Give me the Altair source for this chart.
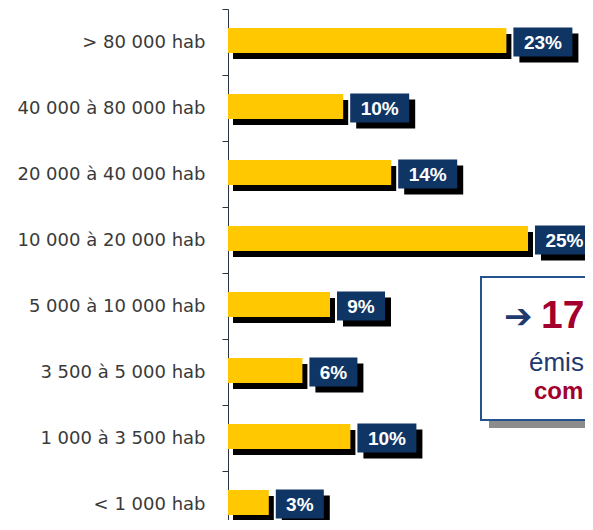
import altair as alt
import pandas as pd

# ---- data ----
categories = [
    "> 80 000 hab",
    "40 000 à 80 000 hab",
    "20 000 à 40 000 hab",
    "10 000 à 20 000 hab",
    "5 000 à 10 000 hab",
    "3 500 à 5 000 hab",
    "1 000 à 3 500 hab",
    "< 1 000 hab",
]
values = [23.2, 9.6, 13.6, 25.0, 8.5, 6.2, 10.2, 3.4]
labels = ["23%", "10%", "14%", "25%", "9%", "6%", "10%", "3%"]

note_arrow = "➔"
note_big = "17"
note_line2 = "émis"
note_line3 = "com"

# ---- styling ----
YELLOW = "#FFC800"
NAVY = "#0F3565"
NAVY_TXT = "#1F3A6E"
RED = "#A3002E"
AXIS_C = "#2B3340"

PAD_L = 220
PAD_T = 1
PLOT_W = 357
PLOT_H = 511
PX_PER_UNIT = 12.0
XMAX = PLOT_W / PX_PER_UNIT

df = pd.DataFrame({"cat": categories, "value": values, "lbl": labels})

y_enc = alt.Y(
    "cat:N",
    sort=categories,
    scale=alt.Scale(domain=categories, range=[0, 528], paddingInner=0, paddingOuter=0),
    axis=alt.Axis(
        title=None,
        tickBand="extent",
        tickSize=6,
        tickColor=AXIS_C,
        domainColor=AXIS_C,
        domainWidth=1,
        labelFont="DejaVu Sans",
        labelFontSize=18,
        labelColor="#3a3a3a",
        labelPadding=17,
        labelLimit=300,
    ),
)
x_enc = alt.X("value:Q", scale=alt.Scale(domain=[0, XMAX], nice=False, zero=True), axis=None)

base = alt.Chart(df).encode(y=y_enc)

bar_shadow = base.mark_bar(color="black", height=25, xOffset=5, x2Offset=5, yOffset=4.5).encode(
    x=x_enc, x2=alt.datum(0)
)
bar = base.mark_bar(color=YELLOW, height=25, yOffset=-1.5).encode(x=x_enc, x2=alt.datum(0))


def label_layers(cond, w):
    sub = base.transform_filter(cond)
    gap = 7
    sh = sub.mark_bar(color="black", height=29, xOffset=gap + 6, x2Offset=gap + 6 + w, yOffset=6).encode(
        x=x_enc, x2=alt.X2("value:Q")
    )
    box = sub.mark_bar(color=NAVY, height=29, xOffset=gap, x2Offset=gap + w).encode(
        x=x_enc, x2=alt.X2("value:Q")
    )
    txt = sub.mark_text(
        xOffset=gap + w / 2,
        font="Liberation Sans",
        fontWeight="bold",
        fontSize=19,
        color="white",
        align="center",
        baseline="middle",
        dy=1,
    ).encode(x=x_enc, text="lbl:N")
    return [sh, box, txt]


two = label_layers("length(datum.lbl) == 3", 59)
one = label_layers("length(datum.lbl) == 2", 48)

note_df = pd.DataFrame({"k": [0]})
note = alt.Chart(note_df)
note_shadow = note.mark_rect(color="#8c8c8c").encode(
    x=alt.value(261), x2=alt.value(420), y=alt.value(276), y2=alt.value(419)
)
note_box = note.mark_rect(fill="white", stroke="#24528c", strokeWidth=2).encode(
    x=alt.value(253), x2=alt.value(420), y=alt.value(268), y2=alt.value(411)
)
t_arrow = note.mark_text(
    text=note_arrow, font="DejaVu Sans", fontSize=34, fontWeight="bold", color=NAVY_TXT,
    align="left", baseline="middle",
).encode(x=alt.value(276), y=alt.value(309))
t_big = note.mark_text(
    text=note_big, font="Liberation Sans", fontSize=39, fontWeight="bold", color=RED,
    align="left", baseline="alphabetic",
).encode(x=alt.value(313), y=alt.value(319))
t_l2 = note.mark_text(
    text=note_line2, font="Liberation Sans", fontSize=26, color=NAVY_TXT,
    align="left", baseline="alphabetic",
).encode(x=alt.value(301), y=alt.value(362))
t_l3 = note.mark_text(
    text=note_line3, font="Liberation Sans", fontSize=24, fontWeight="bold", color=RED,
    align="left", baseline="alphabetic",
).encode(x=alt.value(306), y=alt.value(390))

chart = alt.layer(
    bar_shadow, bar, *two, *one, note_shadow, note_box, t_arrow, t_big, t_l2, t_l3
).properties(
    width=PLOT_W,
    height=PLOT_H,
    autosize=alt.AutoSizeParams(type="none"),
    padding={"left": PAD_L, "top": PAD_T, "right": 0, "bottom": 0},
    background="white",
).configure_view(stroke=None)

chart.save("out.html", embed_options={"renderer": "svg", "actions": False})
